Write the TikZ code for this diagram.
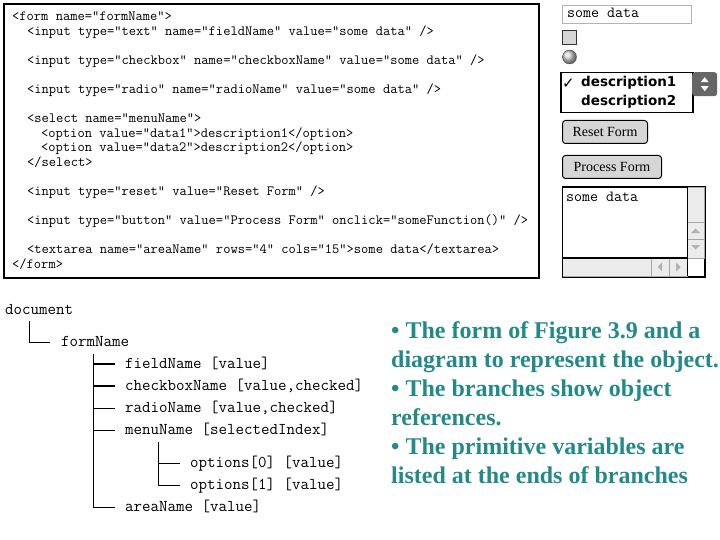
\documentclass[tikz,border=0pt]{standalone}
\usepackage{fontspec}
\setmainfont{Liberation Serif}
\newfontfamily\guifont{DejaVu Sans}
\usetikzlibrary{positioning}

\definecolor{noteteal}{RGB}{35,137,137}
\definecolor{widgetgray}{RGB}{214,214,214}
\definecolor{scrollgray}{RGB}{236,236,236}

\begin{document}
\begin{tikzpicture}[x=1pt, y=-1pt,
    codeline/.style={anchor=base west, inner sep=0, font=\ttfamily\fontsize{14.1}{15}\selectfont},
    treenode/.style={anchor=west, inner sep=0, text height=11pt, text depth=3pt,
                     font=\ttfamily\fontsize{16.5}{18}\selectfont},
    branch/.style={line width=0.9pt},
    mainbranch/.style={line width=2.2pt},
    note/.style={anchor=base west, inner sep=0, text=noteteal,
                 font=\bfseries\fontsize{24}{29}\selectfont},
    widget/.style={draw, anchor=north west, inner sep=0},
    pushbutton/.style={widget, line width=1pt, fill=widgetgray, rounded corners=3pt,
                       font=\fontsize{14}{16}\selectfont},
    menuitem/.style={anchor=west, inner sep=0, font=\guifont\bfseries\fontsize{13.5}{15}\selectfont}
]
\useasboundingbox (0,0) rectangle (720,540);

% --- source of the form ---
\node[widget, line width=2pt, minimum width=535, minimum height=274] (code) at (3,3) {};
\node[codeline] (c1)  at (12,21)    {<form name="formName">};
\node[codeline] (c2)  at (27,35.5)  {<input type="text" name="fieldName" value="some data" />};
\node[codeline] (c3)  at (27,64.6)  {<input type="checkbox" name="checkboxName" value="some data" />};
\node[codeline] (c4)  at (27,93.6)  {<input type="radio" name="radioName" value="some data" />};
\node[codeline] (c5)  at (27,122.7) {<select name="menuName">};
\node[codeline] (c6)  at (41,137.2) {<option value="data1">description1</option>};
\node[codeline] (c7)  at (41,151.8) {<option value="data2">description2</option>};
\node[codeline] (c8)  at (27,166.3) {</select>};
\node[codeline] (c9)  at (27,195.4) {<input type="reset" value="Reset Form" />};
\node[codeline] (c10) at (27,224.4) {<input type="button" value="Process Form" onclick="someFunction()" />};
\node[codeline] (c11) at (27,253.5) {<textarea name="areaName" rows="4" cols="15">some data</textarea>};
\node[codeline] (c12) at (12,268)   {</form>};

% --- rendered widgets ---
\node[widget, draw=gray!60, minimum width=129, minimum height=18] (textbox) at (562,5) {};
\node[codeline, font=\ttfamily\fontsize{15.5}{17}\selectfont] (textval) at (567,18) {some data};

\node[widget, draw=black!80, line width=1pt, fill=widgetgray, minimum size=14] (checkbox) at (562,30) {};
\node[circle, draw=black!70, shading=ball, ball color=gray!35, minimum size=14, inner sep=0] (radio) at (569.5,57) {};

\node[widget, line width=1.5pt, fill=white, minimum width=132, minimum height=40] (menubox) at (560,72) {};
\node[widget, draw=none, fill=black!60, rounded corners=3pt, minimum width=25, minimum height=24] (menubtn) at (692,72) {};
\fill[white] ([yshift=2]menubtn.center) -- ++(-4,0) -- ++(4,-5) -- ++(4,5) -- cycle;
\fill[white] ([yshift=-2]menubtn.center) -- ++(-4,0) -- ++(4,5) -- ++(4,-5) -- cycle;
\node[menuitem, font=\guifont\bfseries\fontsize{15}{15}\selectfont] (tick) at (562,84) {✓};
\node[menuitem] (desc1) at (581,83) {description1};
\node[menuitem] (desc2) at (581,102) {description2};

\node[pushbutton, minimum width=85, minimum height=23] (reset) at (562,120) {Reset Form};
\node[pushbutton, minimum width=99, minimum height=23] (process) at (562,155) {Process Form};

% text area with its scroll bars
\node[widget, line width=1pt, minimum width=142, minimum height=89] (areabox) at (562,187) {};
\filldraw[fill=scrollgray, draw=gray!70] (687,187) rectangle (704,258);
\filldraw[fill=scrollgray, draw=gray!70] (562,258) rectangle (687,276);
\draw[gray!70] (687,222) -- (704,222) (687,239) -- (704,239);
\draw[gray!70] (651,258) -- (651,276) (669,258) -- (669,276);
\draw[line width=1.5pt] (562,258) -- (687,258);
\draw[line width=1pt] (687,187) -- (687,276);
\draw[line width=1pt] (areabox.north west) rectangle (areabox.south east);
\fill[gray!60] (691,233) -- (700,233) -- (695.5,228.5) -- cycle;
\fill[gray!60] (691,245) -- (700,245) -- (695.5,249.5) -- cycle;
\fill[gray!60] (662,262.5) -- (662,271.5) -- (657.5,267) -- cycle;
\fill[gray!60] (676,262.5) -- (676,271.5) -- (680.5,267) -- cycle;
\node[codeline, font=\ttfamily\fontsize{15.5}{17}\selectfont] (areaval) at (566,202) {some data};

% --- object tree ---
\node[treenode] (doc)      at (5,310)   {document};
\node[treenode] (form)     at (61,342)  {formName};
\node[treenode] (field)    at (125,364) {fieldName [value]};
\node[treenode] (checkbx)  at (125,386) {checkboxName [value,checked]};
\node[treenode] (radiobtn) at (125,408) {radioName [value,checked]};
\node[treenode] (menu)     at (125,430) {menuName [selectedIndex]};
\node[treenode] (opt0)     at (190,463) {options[0] [value]};
\node[treenode] (opt1)     at (190,485) {options[1] [value]};
\node[treenode] (area)     at (125,507) {areaName [value]};

\draw[branch] ([xshift=24, yshift=-4]doc.south west) |- ([xshift=-11]form.west);

\coordinate (formtrunk) at ([xshift=32, yshift=-5]form.south west);
\draw[branch] (formtrunk) |- ([xshift=-10]area.west);
\draw[mainbranch] (formtrunk |- field.west) -- ([xshift=-10]field.west);
\draw[mainbranch] (formtrunk |- checkbx.west) -- ([xshift=-10]checkbx.west);
\draw[branch] (formtrunk |- radiobtn.west) -- ([xshift=-10]radiobtn.west);
\draw[branch] (formtrunk |- menu.west) -- ([xshift=-10]menu.west);

\coordinate (menutrunk) at ([xshift=33, yshift=-5]menu.south west);
\draw[branch] (menutrunk) |- ([xshift=-10]opt1.west);
\draw[branch] (menutrunk |- opt0.west) -- ([xshift=-10]opt0.west);

% --- notes ---
\foreach \txt [count=\i] in {• The form of Figure 3.9 and a,
    diagram to represent the object.,
    • The branches show object,
    references.,
    • The primitive variables are,
    listed at the ends of branches}
  \node[note] (note\i) at (391, {338+29*(\i-1)}) {\txt};

\end{tikzpicture}
\end{document}
